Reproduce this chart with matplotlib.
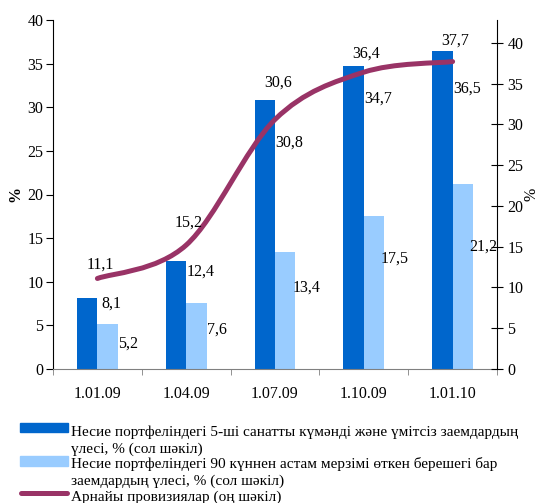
import numpy as np
import matplotlib.pyplot as plt
from matplotlib.path import Path
from matplotlib.patches import PathPatch, Rectangle
from matplotlib.lines import Line2D

plt.rcParams['font.family'] = ['Liberation Serif', 'DejaVu Serif']

# ── Деректер ────────────────────────────────────────────────────────────────
dates = ["1.01.09", "1.04.09", "1.07.09", "1.10.09", "1.01.10"]
doubtful = [8.1, 12.4, 30.8, 34.7, 36.5]      # 5-ші санат (сол шкала)
overdue = [5.2, 7.6, 13.4, 17.5, 21.2]        # 90 күннен астам (сол шкала)
provisions = [11.1, 15.2, 30.6, 36.4, 37.7]   # провизиялар (оң шкала)

legend_texts = [
    ["Несие портфеліндегі 5-ші санатты күмәнді және үмітсіз заемдардың",
     "үлесі, % (сол шәкіл)"],
    ["Несие портфеліндегі 90 күннен астам мерзімі өткен берешегі бар",
     "заемдардың үлесі, % (сол шәкіл)"],
    ["Арнайы провизиялар (оң шәкіл)"],
]

# label offsets (pixels) – Excel put them by hand
dark_dy = [-5, -11, -42, -32, -38]
light_dy = [-20, -27, -36, -42, -63]
line_dy = [14, 22, 37, 19, 21]

C_DARK = "#0066CC"
C_LIGHT = "#99CCFF"
C_LINE = "#993366"
W, H = 545, 503
FS = 11.5
FS_LEG = 11


def fmt(v):
    return f"{v:.1f}".replace(".", ",")


fig = plt.figure(figsize=(W / 100, H / 100), dpi=100)
ax = fig.add_axes([53 / W, 1 - 369 / H, 444 / W, 349 / H])
ax2 = ax.twinx()

x = np.arange(len(dates))
bw = 0.23
ax.bar(x - bw / 2, doubtful, bw, color=C_DARK, zorder=2)
ax.bar(x + bw / 2, overdue, bw, color=C_LIGHT, zorder=2)

ax.set_xlim(-0.5, len(dates) - 0.5)
ax.set_ylim(0, 40)
ax.set_yticks(np.arange(0, 41, 5))
ax.set_xticks(x)
ax.set_xticklabels(dates, fontsize=FS)
ax.set_xticks(np.arange(-0.5, len(dates), 1), minor=True)
ax.tick_params(axis='x', which='major', length=0, pad=12)
ax.tick_params(axis='x', which='minor', length=4, color="#808080", direction='out')
ax.tick_params(axis='y', length=5, labelsize=FS, pad=2)
ax.spines['top'].set_visible(False)
ax.spines['right'].set_visible(False)
ax.spines['bottom'].set_color("#808080")
ax.set_ylabel("%", fontweight='bold', fontsize=FS, labelpad=3)

# ── Оң ось: тегіс сызық ─────────────────────────────────────────────────────
ax2.set_ylim(0, 42.8)
ax2.set_yticks(np.arange(0, 41, 5))
ax2.tick_params(axis='y', direction='inout', length=9, labelsize=FS, pad=3)
for s in ['top', 'left', 'bottom']:
    ax2.spines[s].set_visible(False)
ax2.set_ylabel("%", fontsize=FS, labelpad=0)

pts = np.column_stack([x, provisions]).astype(float)
ext = np.vstack([pts[0], pts, pts[-1]])
verts = [tuple(pts[0])]
codes = [Path.MOVETO]
for i in range(len(pts) - 1):
    p0, p1, p2, p3 = ext[i], ext[i + 1], ext[i + 2], ext[i + 3]
    c1 = p1 + (p2 - p0) / 6
    c2 = p2 - (p3 - p1) / 6
    verts += [tuple(c1), tuple(c2), tuple(p2)]
    codes += [Path.CURVE4] * 3
ax2.add_patch(PathPatch(Path(verts, codes), facecolor='none', edgecolor=C_LINE,
                        lw=3.6, capstyle='round', zorder=3))

# ── Мән белгілері ───────────────────────────────────────────────────────────
for i in range(len(dates)):
    ax.annotate(fmt(doubtful[i]), (x[i] + 0.16, doubtful[i]), xytext=(0, dark_dy[i]),
                textcoords='offset pixels', ha='center', va='center', fontsize=FS)
    ax.annotate(fmt(overdue[i]), (x[i] + 0.35, overdue[i]), xytext=(0, light_dy[i]),
                textcoords='offset pixels', ha='center', va='center', fontsize=FS)
    ax2.annotate(fmt(provisions[i]), (x[i] + 0.03, provisions[i]), xytext=(0, line_dy[i]),
                 textcoords='offset pixels', ha='center', va='center', fontsize=FS)

# ── Аңыз (қолмен) ───────────────────────────────────────────────────────────
def fx(px):
    return px / W


def fy(py):
    return 1 - py / H


fig.add_artist(Rectangle((fx(20), fy(432)), fx(48), 9 / H, transform=fig.transFigure,
                         color=C_DARK))
fig.add_artist(Rectangle((fx(20), fy(466)), fx(48), 10 / H, transform=fig.transFigure,
                         color=C_LIGHT))
fig.add_artist(Line2D([fx(21), fx(67)], [fy(493), fy(493)], transform=fig.transFigure,
                      color=C_LINE, lw=3.6, solid_capstyle='round'))

line_y = [[432, 449], [464, 481], [497]]
for texts, ys in zip(legend_texts, line_y):
    for t, yy in zip(texts, ys):
        fig.text(fx(71), fy(yy), t, fontsize=FS_LEG, ha='left', va='center')

fig.savefig("out.png", dpi=100)
